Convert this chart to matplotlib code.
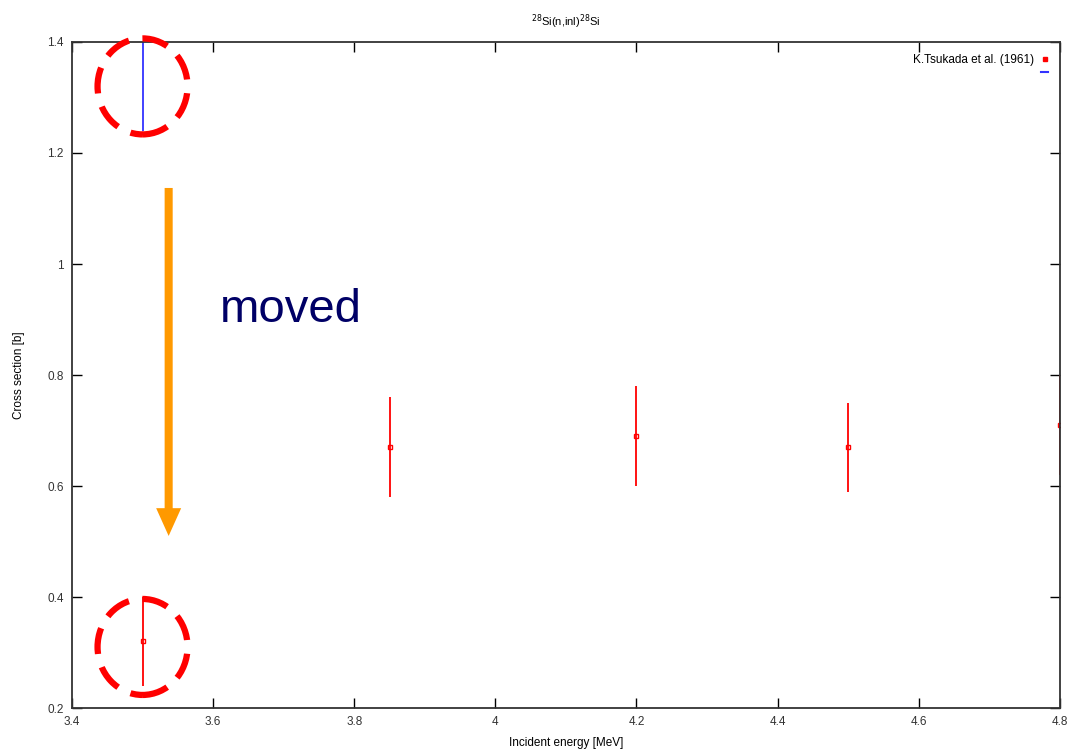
import matplotlib
matplotlib.use("Agg")
import matplotlib.pyplot as plt
from matplotlib.lines import Line2D
from matplotlib.patches import Ellipse
from matplotlib.ticker import FuncFormatter

# K.Tsukada et al. (1961) data
energy = [3.5, 3.85, 4.2, 4.5, 4.8]
xs = [0.32, 0.67, 0.69, 0.67, 0.71]
xs_err = [0.08, 0.09, 0.09, 0.08, 0.09]

# original (moved) point
orig_energy = [3.5]
orig_xs = [1.32]
orig_err = [0.08]

legend_label = "K.Tsukada et al. (1961)"
title = r"$^{28}$Si(n,inl)$^{28}$Si"
xticks = [3.4, 3.6, 3.8, 4.0, 4.2, 4.4, 4.6, 4.8]
yticks = [0.2, 0.4, 0.6, 0.8, 1.0, 1.2, 1.4]

plt.rcParams['font.family'] = ['Liberation Sans', 'DejaVu Sans']
fig = plt.figure(figsize=(10.68, 7.54), dpi=100)
ax = fig.add_axes([0.0674, 0.061, 0.925, 0.8833])

ax.errorbar(energy, xs, yerr=xs_err, fmt='s', color='#ff0000', ms=3.5,
            mfc='none', mew=1.0, elinewidth=1.3, capsize=0)
ax.errorbar(orig_energy, orig_xs, yerr=orig_err, fmt='none', ecolor='#3333ff',
            elinewidth=1.3, capsize=0)

ax.set_xlim(3.4, 4.8)
ax.set_ylim(0.2, 1.4)
ax.set_xticks(xticks)
ax.set_yticks(yticks)
fmt = FuncFormatter(lambda v, p: '%g' % v)
ax.xaxis.set_major_formatter(fmt)
ax.yaxis.set_major_formatter(fmt)
ax.tick_params(direction='in', length=7, width=1, top=True, right=True,
               labelsize=8.5, labelcolor='#333333', pad=6)
for s in ax.spines.values():
    s.set_color('#333333')
    s.set_linewidth(1.3)

ax.set_xlabel("Incident energy [MeV]", fontsize=8.5, labelpad=6)
ax.set_ylabel("Cross section [b]", fontsize=8.5, labelpad=16)
ax.set_title(title, fontsize=8, pad=12)

# legend: text then marker
handles = [Line2D([], [], color='#ff0000', marker='s', ms=3.5, ls='none'),
           Line2D([], [], color='#3333ff', lw=1.5)]
ax.legend(handles, [legend_label, ''], loc='upper right', frameon=False,
          markerfirst=False, handlelength=0.6, fontsize=8.5,
          borderaxespad=0.6, labelspacing=0.1, handletextpad=0.6)

# annotations: dashed circles around original and moved points
w = 90 / 705.7
h = 96 / 555.0
for cx, cy in [(orig_energy[0], orig_xs[0]), (energy[0], xs[0] - 0.01)]:
    e = Ellipse((cx, cy), w, h, fill=False, edgecolor='#ff0000', lw=4.5,
                linestyle=(0, (4.2, 2.2)), clip_on=False, zorder=5)
    e.set_capstyle('butt')
    ax.add_patch(e)

ax.annotate("", xy=(3.537, 0.51), xytext=(3.537, 1.137),
            arrowprops=dict(arrowstyle='simple,head_length=1.0,head_width=0.9,tail_width=0.29',
                            lw=0, color='#ff9900', shrinkA=0, shrinkB=0,
                            mutation_scale=20))
ax.text(3.61, 0.895, "moved", fontsize=34, color='#000066',
        ha='left', va='baseline')

plt.savefig("out.png", dpi=100)
